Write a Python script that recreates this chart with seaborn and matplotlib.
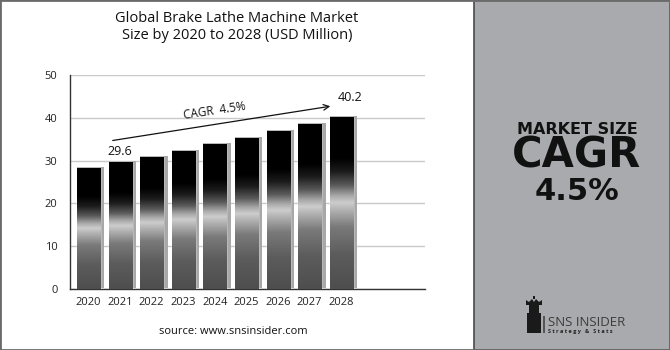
import numpy as np
import pandas as pd
import matplotlib
matplotlib.use("Agg")
import matplotlib.pyplot as plt
import matplotlib.transforms as mtransforms
from matplotlib.colors import LinearSegmentedColormap
from matplotlib.patches import Rectangle, Polygon
import seaborn as sns

# ---- data ----
years = ["2020", "2021", "2022", "2023", "2024", "2025", "2026", "2027", "2028"]
market_size = [28.3, 29.6, 30.9, 32.3, 33.8, 35.2, 36.8, 38.5, 40.2]
y_ticks = [0, 10, 20, 30, 40, 50]
labelled_years = ["2021", "2028"]
cagr_text = "CAGR  4.5%"
title_text = "Global Brake Lathe Machine Market\nSize by 2020 to 2028 (USD Million)"
source_text = "source: www.snsinsider.com"
panel_lines = ["MARKET SIZE", "CAGR", "4.5%"]

W, H = 670, 350
sns.set_theme(style="white")
plt.rcParams["font.family"] = ["Open Sans", "DejaVu Sans"]

fig = plt.figure(figsize=(W / 100, H / 100), dpi=100)
fig.patch.set_facecolor("white")


def fx(px):
    return px / W


def fy(py):
    return 1 - py / H


ax = fig.add_axes([fx(70), fy(289), fx(425) - fx(70), fy(75) - fy(289)])
ax.set_facecolor("white")

df = pd.DataFrame({"year": years, "size": market_size})

# grey side face behind each bar
sns.barplot(data=df, x="year", y="size", color="#a8a8a8", width=0.87,
            saturation=1, errorbar=None, ax=ax, zorder=2)
side_faces = list(ax.patches)
shift = mtransforms.ScaledTranslation(2.2 / 100, 1.2 / 100, fig.dpi_scale_trans)
for p in side_faces:
    p.set_transform(ax.transData + shift)
    p.set_edgecolor("none")

# front faces
sns.barplot(data=df, x="year", y="size", color="#000000", width=0.73,
            saturation=1, errorbar=None, ax=ax, zorder=3)
fronts = [p for p in ax.patches if p not in side_faces]

metal = LinearSegmentedColormap.from_list(
    "metal",
    [(0.00, "#4e4e4e"), (0.20, "#5c5c5c"), (0.36, "#7a7a7a"),
     (0.46, "#b4b4b4"), (0.50, "#cdcdcd"), (0.54, "#a8a8a8"),
     (0.60, "#5a5a5a"), (0.68, "#1c1c1c"), (0.76, "#000000"),
     (1.00, "#000000")])
grad = np.linspace(0, 1, 256).reshape(-1, 1)
for p in fronts:
    x0 = p.get_x()
    w = p.get_width()
    h = p.get_height()
    im = ax.imshow(grad, extent=[x0, x0 + w, 0, h], origin="lower",
                   cmap=metal, aspect="auto", zorder=3.5, interpolation="bilinear")
    im.set_clip_path(p)

ax.set_xlim(-0.585, 10.65)
ax.set_ylim(0, 50)
ax.set_yticks(y_ticks)
ax.set_yticklabels([str(t) for t in y_ticks])
ax.yaxis.grid(True, color="#c9c9c9", linewidth=1.0, zorder=0)
ax.set_axisbelow(True)
ax.set_xlabel("")
ax.set_ylabel("")
ax.tick_params(axis="both", length=0, labelsize=8, colors="#222222")
ax.tick_params(axis="x", pad=6)
ax.tick_params(axis="y", pad=9)
for s in ["top", "right"]:
    ax.spines[s].set_visible(False)
for s in ["left", "bottom"]:
    ax.spines[s].set_color("#333333")
    ax.spines[s].set_linewidth(1.0)

# value labels
for yr in labelled_years:
    i = years.index(yr)
    v = market_size[i]
    dx, dy = (0, 3) if i == 1 else (6, 9)
    ax.annotate(f"{v:.1f}", (i, v), xytext=(dx, dy), textcoords="offset points",
                ha="center", va="bottom", fontsize=9, color="#111111", zorder=6)

# growth arrow
ax.annotate("", xy=(7.74, 42.8), xytext=(0.68, 34.6),
            arrowprops=dict(arrowstyle="->", color="#111111", lw=0.9,
                            mutation_scale=10), zorder=6)
ax.text(4.0, 41.6, cagr_text, rotation=8.5, ha="center", va="center",
        fontsize=8.5, color="#111111", zorder=6)

# titles
fig.text(fx(237), fy(27), title_text, ha="center", va="center",
         fontsize=10.5, color="#111111", linespacing=1.25)
fig.text(fx(233), fy(332), source_text, ha="center", va="center",
         fontsize=8, color="#111111")

# right panel
fig.patches.append(Rectangle((fx(474), 0), 1 - fx(474), 1, transform=fig.transFigure,
                             facecolor="#a9aaad", edgecolor="#4a4a4a", linewidth=1.2,
                             zorder=0))
panel_font = ["DejaVu Sans"]
fig.text(fx(577), fy(129), panel_lines[0], ha="center", va="center",
         fontsize=11.5, fontweight="bold", color="#111111", family=panel_font)
fig.text(fx(577), fy(156), panel_lines[1], ha="center", va="center",
         fontsize=30, fontweight="bold", color="#111111", family=panel_font)
fig.text(fx(577), fy(192), panel_lines[2], ha="center", va="center",
         fontsize=22, fontweight="bold", color="#111111", family=panel_font)

# logo
logo_parts = [
    Rectangle((fx(527), fy(333)), fx(14), fy(313) - fy(333), facecolor="#1a1a1a"),
    Rectangle((fx(529), fy(313)), fx(10), fy(305) - fy(313), facecolor="#1a1a1a"),
    Polygon([(fx(526), fy(305)), (fx(542), fy(305)), (fx(542), fy(300)),
             (fx(539), fy(302)), (fx(536), fy(299)), (fx(534), fy(302)),
             (fx(532), fy(299)), (fx(529), fy(302)), (fx(526), fy(300))],
            closed=True, facecolor="#1a1a1a"),
    Rectangle((fx(533), fy(299)), fx(2), fy(296) - fy(299), facecolor="#1a1a1a"),
    Rectangle((fx(543), fy(333)), fx(2), fy(316) - fy(333), facecolor="#555555"),
]
for part in logo_parts:
    part.set_transform(fig.transFigure)
    part.set_edgecolor("none")
    fig.patches.append(part)
fig.text(fx(548), fy(322), "SNS INSIDER", ha="left", va="center",
         fontsize=9.5, color="#3c3c3c")
fig.text(fx(548), fy(332), "S t r a t e g y   &   S t a t s", ha="left", va="center",
         fontsize=4, fontweight="bold", color="#222222")

# frame
fig.patches.append(Rectangle((0, 0), 1, 1, transform=fig.transFigure, fill=False,
                             edgecolor="#6a6a6a", linewidth=2.0, zorder=10))

fig.savefig("out.png", dpi=100)
